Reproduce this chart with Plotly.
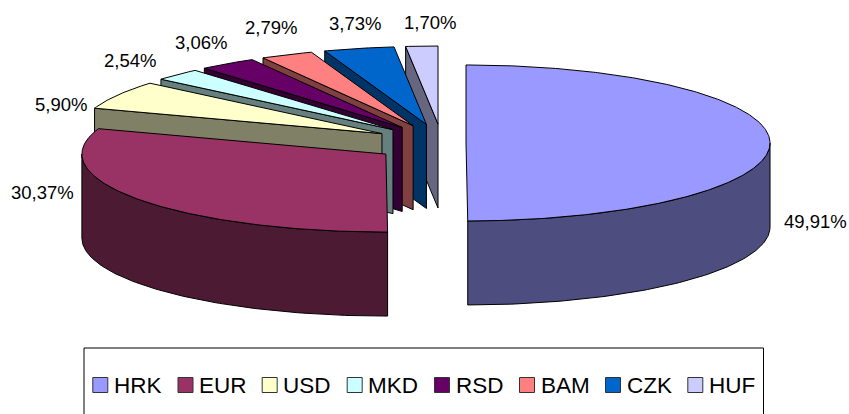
import numpy as np
import plotly.graph_objects as go

categories = ["HRK", "EUR", "USD", "MKD", "RSD", "BAM", "CZK", "HUF"]
shares = [49.91, 30.37, 5.90, 2.54, 3.06, 2.79, 3.73, 1.70]
top_colors = ["#9999FF", "#993366", "#FFFFCC", "#CCFFFF", "#660066", "#FF8080", "#0066CC", "#CCCCFF"]
side_colors = ["#4D4D80", "#4D1A33", "#808066", "#668080", "#330033", "#804040", "#003366", "#666680"]
pulls = [0.354, 1, 1, 1, 1, 1, 1, 1]
label_xy = [(815, 221.5), (42, 192), (60.5, 104), (130, 60), (201, 42), (270.5, 27), (355, 23), (430, 22)]
legend_x = [100.3, 185.5, 269.7, 354.7, 442, 527, 613, 695.3]

CX, CY = 441.7, 143.0      # pie centre before explosion
RX, RY = 304.0, 78.0       # ellipse radii of the top face
DX, DY = 68.7, 19.0        # full explosion distance
DEPTH = 84.0               # extrusion height
LEGEND_Y = 385

FONT = "Liberation Sans, Arial, sans-serif"

def pt(ax, ay, deg):
    a = np.radians(deg)
    return ax + RX * np.sin(a), ay - RY * np.cos(a)

cum = np.cumsum([0] + shares)
total = cum[-1]
starts = cum[:-1] / total * 360
ends = cum[1:] / total * 360

fig = go.Figure()

def poly(xs, ys, color):
    fig.add_trace(go.Scatter(x=list(xs), y=list(ys), mode="lines", fill="toself",
                             fillcolor=color, line=dict(color="#000000", width=1),
                             showlegend=False, hoverinfo="skip"))

# painter's order: back slices first, then the two large front ones
order = [7, 6, 5, 4, 3, 2, 1, 0]
for i in order:
    s, e = starts[i], ends[i]
    mid = np.radians((s + e) / 2)
    ax = CX + pulls[i] * DX * np.sin(mid)
    ay = CY - pulls[i] * DY * np.cos(mid)
    # start-edge cut face (visible on slices in the back half)
    if s > 180:
        px, py = pt(ax, ay, s)
        poly([ax, px, px, ax, ax], [ay, py, py + DEPTH, ay + DEPTH, ay], side_colors[i])
    # outer wall: only the part in the front half of the ellipse
    lo, hi = max(s, 90), min(e, 270)
    if lo < hi:
        t = np.linspace(lo, hi, 90)
        wx, wy = pt(ax, ay, t)
        poly(np.r_[wx, wx[::-1], wx[0]], np.r_[wy, wy[::-1] + DEPTH, wy[0]], side_colors[i])
    # top face
    t = np.linspace(s, e, max(4, int(e - s) * 2))
    tx, ty = pt(ax, ay, t)
    poly(np.r_[ax, tx, ax], np.r_[ay, ty, ay], top_colors[i])

# legend keys
for name, col, lx in zip(categories, top_colors, legend_x):
    fig.add_trace(go.Scatter(x=[lx], y=[LEGEND_Y], mode="markers", name=name,
                             marker=dict(symbol="square", size=15, color=col,
                                         line=dict(color="#333333", width=1)),
                             showlegend=False, hoverinfo="name", cliponaxis=False))

annotations = [
    dict(x=x, y=y, text=f"{v:.2f}".replace(".", ",") + "%", showarrow=False,
         xanchor="center", yanchor="middle",
         font=dict(family=FONT, size=18.5, color="#000000"))
    for (x, y), v in zip(label_xy, shares)
]
annotations += [
    dict(x=lx + 13.5, y=LEGEND_Y, text=name, showarrow=False, xanchor="left", yanchor="middle",
         xshift=-2, font=dict(family=FONT, size=22.5, color="#000000"))
    for name, lx in zip(categories, legend_x)
]

fig.update_layout(
    width=849, height=414,
    margin=dict(l=0, r=0, t=0, b=0),
    paper_bgcolor="white", plot_bgcolor="white",
    xaxis=dict(range=[0, 849], visible=False, fixedrange=True),
    yaxis=dict(range=[414, 0], visible=False, fixedrange=True),
    annotations=annotations,
    shapes=[dict(type="rect", xref="x", yref="y", x0=84, x1=763.5, y0=348, y1=430,
                 line=dict(color="#000000", width=1), fillcolor="rgba(0,0,0,0)", layer="below")],
    showlegend=False,
)

fig.write_html("out.html", config=dict(displayModeBar=False),
               post_script="document.body.style.margin='0';document.body.style.overflow='hidden';")
